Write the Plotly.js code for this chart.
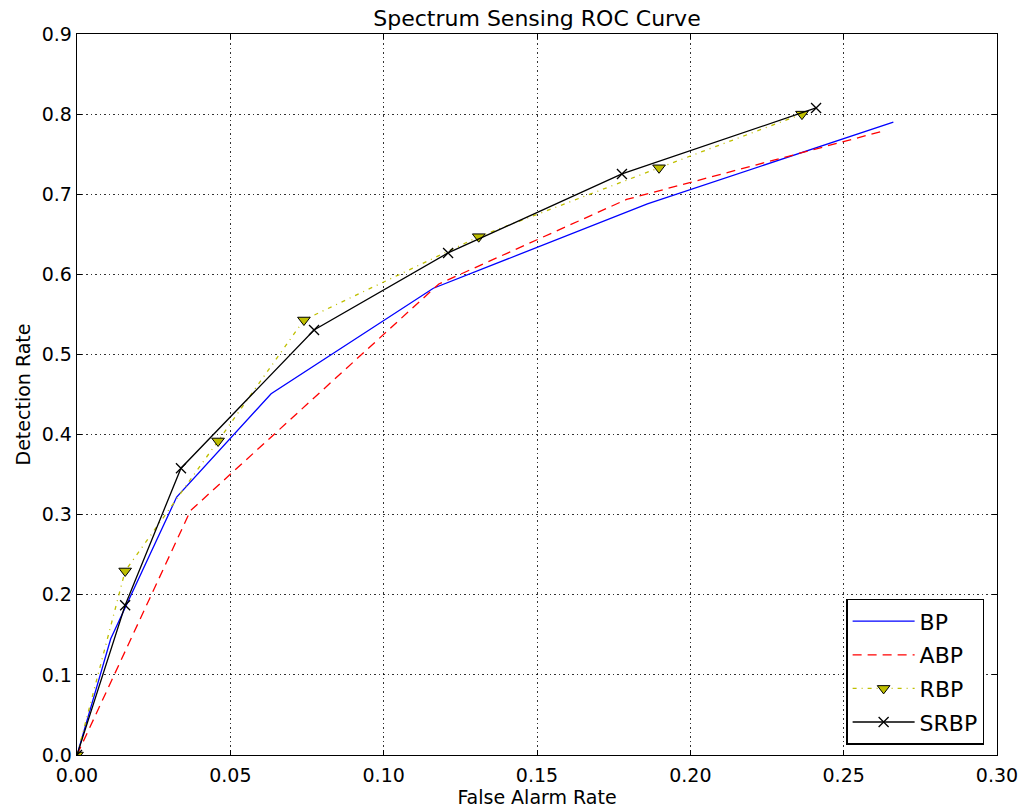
<!DOCTYPE html>
<html>
<head>
<meta charset="utf-8">
<script src="https://cdn.plot.ly/plotly-3.0.1.min.js"></script>
<style>html,body{margin:0;padding:0;background:#fff;}#chart{width:1025px;height:811px;}</style>
</head>
<body>
<div id="chart"></div>
<script>
var bpX = [0, 0.011, 0.0325, 0.0633, 0.1162, 0.186, 0.2662];
var bpY = [0, 0.145, 0.322, 0.451, 0.5826, 0.688, 0.790];

var abpX = [0, 0.037, 0.118, 0.1792, 0.262];
var abpY = [0, 0.305, 0.588, 0.6935, 0.778];

var rbpX = [0, 0.0157, 0.046, 0.074, 0.131, 0.1898, 0.2364];
var rbpY = [0, 0.2297, 0.392, 0.543, 0.647, 0.733, 0.800];

var srbpX = [0, 0.0157, 0.0339, 0.0773, 0.121, 0.1777, 0.241];
var srbpY = [0, 0.187, 0.358, 0.5305, 0.6267, 0.7253, 0.8077];

var xTicks = [0, 0.05, 0.10, 0.15, 0.20, 0.25, 0.30];
var xTickText = ['0.00', '0.05', '0.10', '0.15', '0.20', '0.25', '0.30'];
var yTicks = [0, 0.1, 0.2, 0.3, 0.4, 0.5, 0.6, 0.7, 0.8, 0.9];
var yTickText = ['0.0', '0.1', '0.2', '0.3', '0.4', '0.5', '0.6', '0.7', '0.8', '0.9'];

var fam = '"DejaVu Sans", sans-serif';

var traces = [
  {x: bpX, y: bpY, name: 'BP', legendgroup: 'a', mode: 'lines', line: {color: 'rgb(0,0,255)', width: 1.3}},
  {x: abpX, y: abpY, name: 'ABP', legendgroup: 'b', mode: 'lines', line: {color: 'rgb(255,0,0)', width: 1.3, dash: '9px,6px'}},
  {x: rbpX, y: rbpY, name: 'RBP', legendgroup: 'c', mode: 'lines+markers',
   line: {color: 'rgb(191,191,0)', width: 1.3, dash: '4px,5px,1px,5px'},
   marker: {symbol: 'triangle-down', size: 11, color: 'rgb(191,191,0)', line: {color: 'black', width: 1}}},
  {x: srbpX, y: srbpY, name: 'SRBP', legendgroup: 'd', mode: 'lines+markers',
   line: {color: 'black', width: 1.3},
   marker: {symbol: 'x-thin', size: 10, color: 'black', line: {color: 'black', width: 1.3}}}
];

var axisCommon = {
  showline: true, linecolor: 'black', linewidth: 1.3, mirror: 'ticks',
  ticks: 'inside', ticklen: 5, tickcolor: 'black', tickwidth: 1,
  showgrid: true, gridcolor: 'rgba(0,0,0,0.8)', griddash: '1.5px,3px', gridwidth: 1,
  zeroline: false, automargin: false
};

var layout = {
  width: 1025, height: 811,
  margin: {l: 77, r: 28, t: 34, b: 56},
  paper_bgcolor: 'white', plot_bgcolor: 'white',
  title: {text: 'Spectrum Sensing ROC Curve', font: {family: fam, size: 22, color: 'black'},
          xref: 'paper', x: 0.5, xanchor: 'center', yref: 'container', y: 0.978, yanchor: 'middle'},
  xaxis: Object.assign({}, axisCommon, {
    range: [0, 0.30], tickvals: xTicks, ticktext: xTickText,
    tickfont: {family: fam, size: 19, color: 'black'}, ticklabelstandoff: 3,
    title: {text: 'False Alarm Rate', font: {family: fam, size: 19, color: 'black'}, standoff: 2}
  }),
  yaxis: Object.assign({}, axisCommon, {
    range: [0, 0.9], tickvals: yTicks, ticktext: yTickText,
    tickfont: {family: fam, size: 19, color: 'black'},
    title: {text: 'Detection Rate', font: {family: fam, size: 19, color: 'black'}, standoff: 6}
  }),
  legend: {
    x: 0.986, y: 0.014, xanchor: 'right', yanchor: 'bottom',
    bordercolor: 'black', borderwidth: 1.5, bgcolor: 'white',
    font: {family: fam, size: 22, color: 'black'},
    traceorder: 'grouped', tracegroupgap: 2, itemwidth: 62
  },
  showlegend: true
};

Plotly.newPlot('chart', traces, layout, {displayModeBar: false, staticPlot: true});
</script>
</body>
</html>
